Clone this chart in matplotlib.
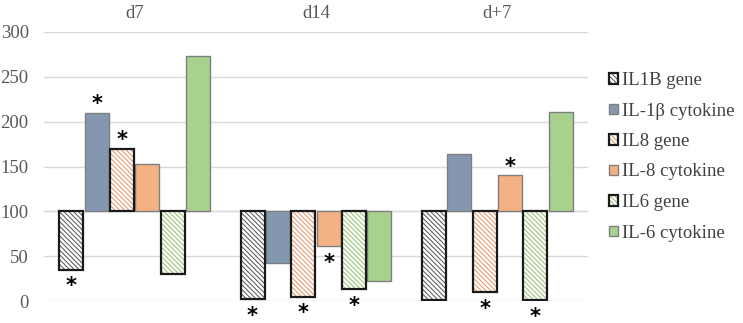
import numpy as np
import matplotlib
matplotlib.use('Agg')
import matplotlib.pyplot as plt
from matplotlib.patches import Patch

# values relative to control (=100)
groups = ['d7', 'd14', 'd+7']
series = ['IL1B gene', 'IL-1β cytokine', 'IL8 gene', 'IL-8 cytokine', 'IL6 gene', 'IL-6 cytokine']
il1b_gene = [35, 2, 1]
il1b_cyt = [210, 42, 164]
il8_gene = [170, 5, 10]
il8_cyt = [153, 61, 140]
il6_gene = [30, 13, 1]
il6_cyt = [273, 22, 211]
values = [il1b_gene, il1b_cyt, il8_gene, il8_cyt, il6_gene, il6_cyt]

# significance marks: (series index, group index)
stars = [(0, 0), (1, 0), (2, 0),
         (0, 1), (2, 1), (3, 1), (4, 1),
         (2, 2), (3, 2), (4, 2)]

colors = ['#505050', '#8497B0', '#E59060', '#F4B183', '#8DBE6A', '#A9D18E']
is_gene = [True, False, True, False, True, False]
baseline = 100

plt.rcParams['font.family'] = ['Liberation Serif', 'DejaVu Serif']
plt.rcParams['hatch.linewidth'] = 0.7
txt_color = '#595959'
hatch = '\\' * 7

fig = plt.figure(figsize=(7.43, 3.23), dpi=100)
ax = fig.add_axes([44 / 743, 1 - 301 / 323, (588 - 44) / 743, 269 / 323])

x = np.arange(len(groups))
w = 0.14
bw = 0.132
handles = []
for j, (name, vals) in enumerate(zip(series, values)):
    pos = x + (j - 2.5) * w
    heights = np.array(vals) - baseline
    if is_gene[j]:
        ax.bar(pos, heights, bw, bottom=baseline, color='white', hatch=hatch,
               edgecolor=colors[j], linewidth=0, zorder=2)
        ax.bar(pos, heights, bw, bottom=baseline, fill=False,
               edgecolor='#1a1a1a', linewidth=1.6, zorder=3)
        h = (Patch(facecolor='white', hatch=hatch, edgecolor=colors[j], linewidth=0),
             Patch(fill=False, edgecolor='#1a1a1a', linewidth=1.6))
    else:
        ax.bar(pos, heights, bw, bottom=baseline, color=colors[j],
               edgecolor='#7f7f7f', linewidth=1.0, zorder=2)
        h = Patch(facecolor=colors[j], edgecolor='#7f7f7f', linewidth=1.0)
    handles.append(h)

for j, g in stars:
    v = values[j][g]
    pos = x[g] + (j - 2.5) * w
    off = 6 if v >= baseline else -12
    ax.annotate('*', (pos, v), xytext=(0, off), textcoords='offset points',
                ha='center', va='center', fontsize=15, fontweight='bold',
                family='DejaVu Sans', color='black', annotation_clip=False)

ax.set_ylim(0, 300)
ax.set_xlim(-0.5, 2.5)
ax.set_yticks(range(0, 301, 50))
ax.yaxis.grid(True, color='#d9d9d9', linewidth=1.0)
ax.set_axisbelow(True)
ax.axhline(baseline, color='#d9d9d9', linewidth=1.0, zorder=1)
ax.set_xticks([])
for s in ax.spines.values():
    s.set_visible(False)
ax.tick_params(axis='y', length=0, pad=11, labelsize=13.5, labelcolor=txt_color)

for i, g in enumerate(groups):
    ax.text(x[i], 1.07, g, transform=ax.get_xaxis_transform(), ha='center',
            va='center', fontsize=13.5, color=txt_color)

leg = fig.legend(handles, series, loc='upper left', bbox_to_anchor=(609 / 743, 1 - 72 / 323),
                 frameon=False, fontsize=13.5, handlelength=0.5, handleheight=0.5,
                 handletextpad=0.2, labelspacing=0.72, borderpad=0, borderaxespad=0)
for t in leg.get_texts():
    t.set_color('#404040')

plt.savefig('out.png', dpi=100)
